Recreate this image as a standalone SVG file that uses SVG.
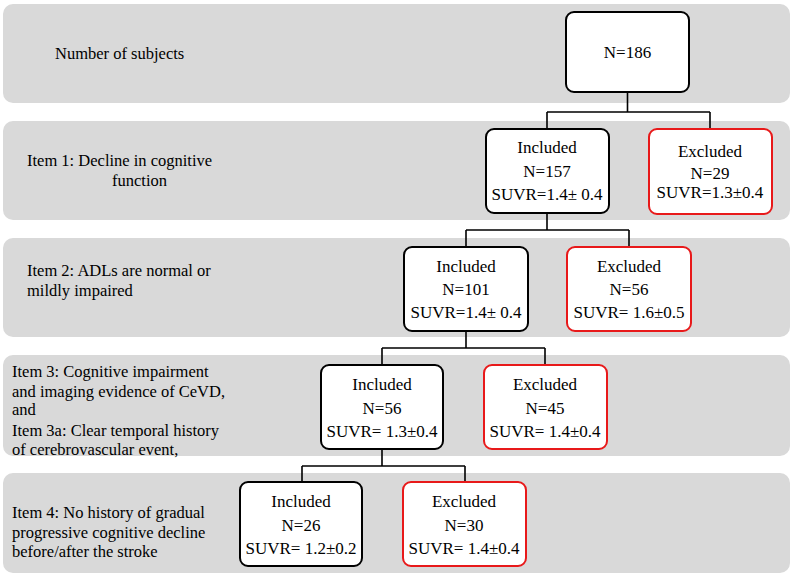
<svg xmlns="http://www.w3.org/2000/svg" width="793" height="578" viewBox="0 0 793 578">
<style>
.band{fill:#d9d9d9;}
.box{fill:#ffffff;stroke:#000000;stroke-width:2;}
.ex{fill:#ffffff;stroke:#e8191a;stroke-width:2;}
.t{font-family:'Liberation Serif','Times New Roman',Times,'DejaVu Serif','Noto Serif',serif;font-size:17px;fill:#000;text-anchor:middle;}
.l{font-family:'Liberation Serif','Times New Roman',Times,'DejaVu Serif','Noto Serif',serif;font-size:16.5px;fill:#000;}
.c{fill:none;stroke:#000;stroke-width:1.6;}
</style>
<rect width="793" height="578" fill="#ffffff"/>
<g id="bands">
<rect class="band" x="3" y="4" width="787" height="99" rx="10"/>
<rect class="band" x="3" y="121" width="787" height="99" rx="10"/>
<rect class="band" x="3" y="238" width="787" height="99" rx="10"/>
<rect class="band" x="3" y="355" width="787" height="101" rx="10"/>
<rect class="band" x="3" y="473" width="787" height="100" rx="10"/>
</g>
<g id="labels">
<text class="l" x="55" y="59">Number of subjects</text>
<text class="l" x="27" y="166">Item 1: Decline in cognitive</text>
<text class="l" x="112" y="186">function</text>
<text class="l" x="27" y="276">Item 2: ADLs are normal or</text>
<text class="l" x="27" y="296">mildly impaired</text>
<text class="l" x="12" y="377">Item 3: Cognitive impairment</text>
<text class="l" x="12" y="397">and imaging evidence of CeVD,</text>
<text class="l" x="12" y="415">and</text>
<text class="l" x="12" y="436">Item 3a: Clear temporal history</text>
<text class="l" x="12" y="455">of cerebrovascular event,</text>
<text class="l" x="12" y="518">Item 4: No history of gradual</text>
<text class="l" x="12" y="538">progressive cognitive decline</text>
<text class="l" x="12" y="557">before/after the stroke</text>
</g>
<g id="connectors">
<path class="c" d="M627.5 92V112M547 112H710M547 112V129M710 112V129"/>
<path class="c" d="M547 213V230M466 230H629M466 230V247M629 230V247"/>
<path class="c" d="M466 331V348M382 348H545M382 348V365M545 348V365"/>
<path class="c" d="M382 449V466M302 466H465M302 466V482M465 466V482"/>
</g>
<g id="n0">
<rect class="box" x="566" y="12" width="123" height="80" rx="8"/>
<text class="t" x="627.5" y="58">N=186</text>
</g>
<g id="inc1">
<rect class="box" x="486" y="129" width="123" height="84" rx="8"/>
<text class="t" x="547" y="153">Included</text>
<text class="t" x="547" y="177">N=157</text>
<text class="t" x="547" y="200">SUVR=1.4± 0.4</text>
</g>
<g id="exc1">
<rect class="ex" x="649" y="129" width="123" height="85" rx="8"/>
<text class="t" x="710" y="157">Excluded</text>
<text class="t" x="710" y="179">N=29</text>
<text class="t" x="710" y="198">SUVR=1.3±0.4</text>
</g>
<g id="inc2">
<rect class="box" x="404" y="247" width="124" height="84" rx="8"/>
<text class="t" x="466" y="272">Included</text>
<text class="t" x="466" y="295">N=101</text>
<text class="t" x="466" y="318">SUVR=1.4± 0.4</text>
</g>
<g id="exc2">
<rect class="ex" x="567" y="247" width="124" height="84" rx="8"/>
<text class="t" x="629" y="272">Excluded</text>
<text class="t" x="629" y="295">N=56</text>
<text class="t" x="629" y="318">SUVR= 1.6±0.5</text>
</g>
<g id="inc3">
<rect class="box" x="321" y="365" width="122" height="84" rx="8"/>
<text class="t" x="382" y="390">Included</text>
<text class="t" x="382" y="414">N=56</text>
<text class="t" x="382" y="437">SUVR= 1.3±0.4</text>
</g>
<g id="exc3">
<rect class="ex" x="484" y="365" width="123" height="84" rx="8"/>
<text class="t" x="545" y="390">Excluded</text>
<text class="t" x="545" y="414">N=45</text>
<text class="t" x="545" y="437">SUVR= 1.4±0.4</text>
</g>
<g id="inc4">
<rect class="box" x="240" y="482" width="122" height="84" rx="8"/>
<text class="t" x="301" y="507">Included</text>
<text class="t" x="301" y="531">N=26</text>
<text class="t" x="301" y="554">SUVR= 1.2±0.2</text>
</g>
<g id="exc4">
<rect class="ex" x="403" y="482" width="123" height="84" rx="8"/>
<text class="t" x="464" y="507">Excluded</text>
<text class="t" x="464" y="531">N=30</text>
<text class="t" x="464" y="554">SUVR= 1.4±0.4</text>
</g>
</svg>
